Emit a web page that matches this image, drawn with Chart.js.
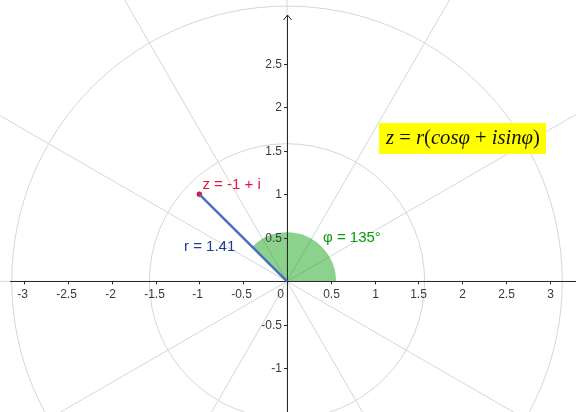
<!DOCTYPE html>
<html>
<head>
<meta charset="utf-8">
<script src="https://cdn.jsdelivr.net/npm/chart.js@4/dist/chart.umd.min.js"></script>
<style>
  html, body { margin: 0; padding: 0; background: #fff; }
  #wrap { width: 576px; height: 412px; position: relative; }
</style>
</head>
<body>
<div id="wrap"><canvas id="chart"></canvas></div>
<script>
// complex number z = -1 + i
const zPoint = [{ x: -1, y: 1 }];
const segment = [{ x: 0, y: 0 }, { x: -1, y: 1 }];

// argument sector
const sectorRadius = 0.56;
const sectorDegrees = 135;

// polar grid (radius steps pi/2, spokes every 30 degrees)
const gridRadii = [1.5708, 3.1416];
const gridAngles = [0, 30, 60, 90, 120, 150, 180, 210, 240, 270, 300, 330];

// tick labels
const xTicks = [-3, -2.5, -2, -1.5, -1, -0.5, 0.5, 1, 1.5, 2, 2.5, 3];
const yTicks = [-1, -0.5, 0.5, 1, 1.5, 2, 2.5];

// visible window
const xRange = [-3.2247, 3.2472];
const yRange = [-1.4494, 3.1798];

// formula pieces [text, italic]
const formula = [["z", true], [" = ", false], ["r", true], ["(", false], ["cosφ", true],
                 [" + ", false], ["isinφ", true], [")", false]];

/**
 * grid, sector and axes under the datasets
 */
const backdrop = {
    id: "backdrop",
    beforeDatasetsDraw(chart) {
        const ctx = chart.ctx;
        const xs = chart.scales.x, ys = chart.scales.y;
        const ox = xs.getPixelForValue(0), oy = ys.getPixelForValue(0);
        const unit = xs.getPixelForValue(1) - ox;
        ctx.save();

        //polar grid
        ctx.strokeStyle = "#d6d6d6";
        ctx.lineWidth = 1;
        gridRadii.forEach((r) => {
            ctx.beginPath();
            ctx.arc(ox, oy, r * unit, 0, Math.PI * 2);
            ctx.stroke();
        });
        gridAngles.forEach((a) => {
            const rad = a * Math.PI / 180;
            ctx.beginPath();
            ctx.moveTo(ox, oy);
            ctx.lineTo(ox + Math.cos(rad) * 1000, oy - Math.sin(rad) * 1000);
            ctx.stroke();
        });

        //angle sector
        ctx.fillStyle = "rgba(0,153,0,0.45)";
        ctx.beginPath();
        ctx.moveTo(ox, oy);
        ctx.arc(ox, oy, sectorRadius * unit, 0, -sectorDegrees * Math.PI / 180, true);
        ctx.closePath();
        ctx.fill();

        //axes
        ctx.strokeStyle = "#2a2a2a";
        ctx.beginPath();
        ctx.moveTo(10, Math.round(oy) + 0.5);
        ctx.lineTo(chart.width, Math.round(oy) + 0.5);
        const ax = Math.round(ox) + 0.5;
        ctx.moveTo(ax, 15);
        ctx.lineTo(ax, chart.height);
        //arrow head
        ctx.moveTo(ax - 4, 20);
        ctx.lineTo(ax, 15);
        ctx.lineTo(ax + 4, 20);
        ctx.stroke();

        //ticks + labels
        ctx.font = "12px 'Liberation Sans', Arial, sans-serif";
        ctx.fillStyle = "#3a3a3a";
        ctx.textAlign = "center";
        ctx.textBaseline = "middle";
        xTicks.forEach((v) => {
            const px = Math.round(xs.getPixelForValue(v)) + 0.5;
            ctx.beginPath();
            ctx.moveTo(px, oy);
            ctx.lineTo(px, oy + 3);
            ctx.stroke();
            ctx.fillText(String(v), px - (v < 0 ? 2 : 0), oy + 13);
        });
        ctx.textAlign = "right";
        yTicks.forEach((v) => {
            const py = Math.round(ys.getPixelForValue(v)) + 0.5;
            ctx.beginPath();
            ctx.moveTo(ox - 3, py);
            ctx.lineTo(ox, py);
            ctx.stroke();
            ctx.fillText(String(v), ox - 5, py);
        });
        ctx.fillText("0", ox - 3, oy + 13);
        ctx.restore();
    }
};

/**
 * text labels and formula box
 */
const annotations = {
    id: "annotations",
    afterDatasetsDraw(chart) {
        const ctx = chart.ctx;
        const xs = chart.scales.x, ys = chart.scales.y;
        ctx.save();
        ctx.font = "15px 'Liberation Sans', Arial, sans-serif";
        ctx.textAlign = "left";
        ctx.textBaseline = "alphabetic";
        const zx = xs.getPixelForValue(zPoint[0].x), zy = ys.getPixelForValue(zPoint[0].y);
        ctx.fillStyle = "#ee1144";
        ctx.fillText("z = -1 + i", zx + 3, zy - 5);
        ctx.fillStyle = "#1c3c96";
        ctx.fillText("r = 1.41", 184, 251);
        ctx.fillStyle = "#0a9a0a";
        ctx.fillText("φ = 135°", 323, 242);

        //formula box
        ctx.fillStyle = "#ffff00";
        ctx.fillRect(379, 123, 167, 31);
        ctx.fillStyle = "#111";
        //fit formula to ~154px wide
        const fontFor = (it, size) => (it ? "italic " : "") + size + "px 'Liberation Serif', 'DejaVu Serif', serif";
        let w = 0;
        formula.forEach(([t, it]) => { ctx.font = fontFor(it, 18); w += ctx.measureText(t).width; });
        const size = 18 * 154 / w;
        let x = 386;
        formula.forEach(([t, it]) => {
            ctx.font = fontFor(it, size);
            ctx.fillText(t, x, 144);
            x += ctx.measureText(t).width;
        });
        ctx.restore();
    }
};

new Chart(document.getElementById("chart"), {
    type: "scatter",
    data: {
        datasets: [
            {
                data: segment,
                showLine: true,
                borderColor: "#4a6fc2",
                borderWidth: 2.5,
                pointRadius: 0
            },
            {
                data: zPoint,
                pointRadius: 2.5,
                backgroundColor: "#e8103c",
                borderColor: "#b00020",
                borderWidth: 0.5
            }
        ]
    },
    options: {
        responsive: true,
        maintainAspectRatio: false,
        animation: false,
        layout: { padding: 0 },
        plugins: { legend: { display: false }, tooltip: { enabled: false } },
        scales: {
            x: { type: "linear", min: xRange[0], max: xRange[1], display: false },
            y: { type: "linear", min: yRange[0], max: yRange[1], display: false }
        }
    },
    plugins: [backdrop, annotations]
});
</script>
</body>
</html>
